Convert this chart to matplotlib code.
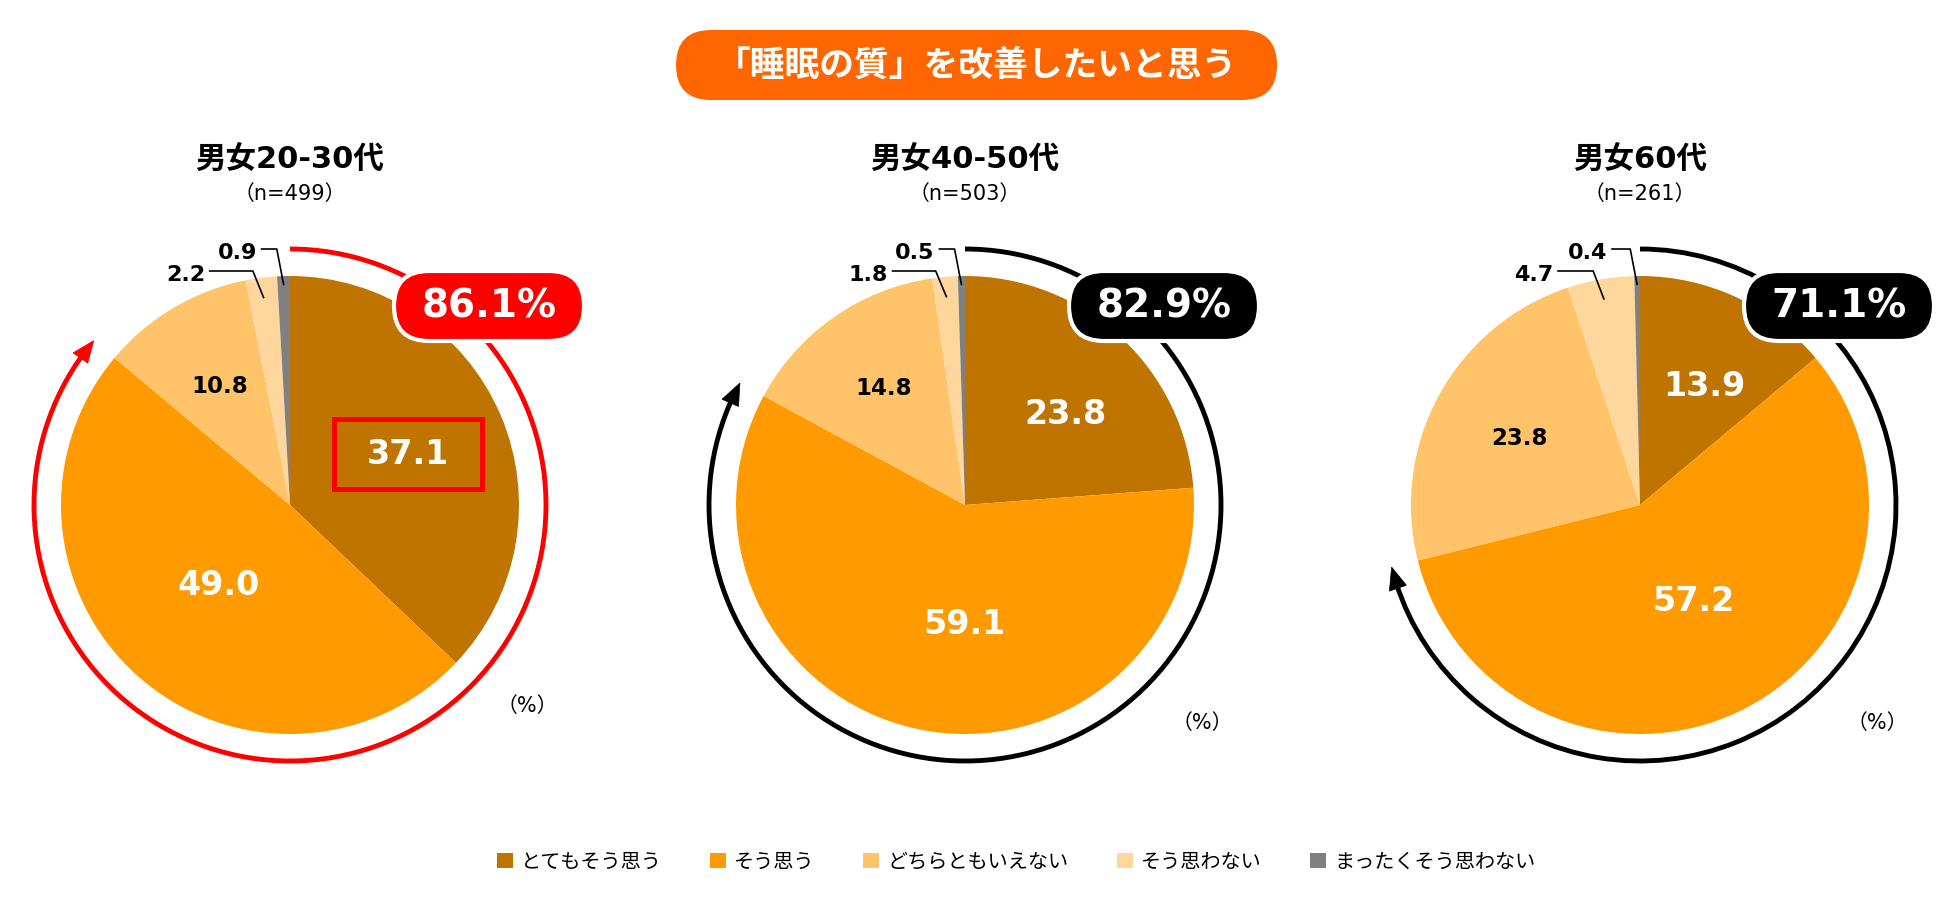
import matplotlib
matplotlib.use('Agg')
import matplotlib.pyplot as plt
from matplotlib.patches import Arc, FancyBboxPatch, Polygon, Rectangle
from matplotlib.font_manager import FontProperties
import numpy as np

# ---------------- data ----------------
title = '「睡眠の質」を改善したいと思う'
categories = ['とてもそう思う', 'そう思う', 'どちらともいえない', 'そう思わない', 'まったくそう思わない']
groups = ['男女20-30代', '男女40-50代', '男女60代']
sample_sizes = [499, 503, 261]
values_20_30 = [37.1, 49.0, 10.8, 2.2, 0.9]
values_40_50 = [23.8, 59.1, 14.8, 1.8, 0.5]
values_60 = [13.9, 57.2, 23.8, 4.7, 0.4]
all_values = [values_20_30, values_40_50, values_60]

# ---------------- style ----------------
colors = ['#C07400', '#FF9A00', '#FFC369', '#FFD79C', '#808080']
accent_colors = ['#FF0000', '#000000', '#000000']
highlight_first = [True, False, False]

W, H = 1950, 905
fig = plt.figure(figsize=(W / 100, H / 100), dpi=100)
ax = fig.add_axes([0, 0, 1, 1])

def Y(v):
    return H - v

JP = ['DejaVu Sans', 'Noto Sans CJK JP']
NUM = ['DejaVu Sans']

centers = [(290, 505), (965, 505), (1640, 505)]
R = 229          # pie radius (px)
RR = 256         # ring radius (px)
inner_layout = [
    [(0.56, 0), (0.47, 0), (0.60, 0)],
    [(0.59, -5), (0.52, 12), (0.62, 0)],
    [(0.59, -3.5), (0.48, 2), (0.60, 0)],
]
inner_colors = ['white', 'white', 'black']
inner_sizes = [24, 24, 16.5]
leader_r = [0.91, 0.96]
leader_elbow_up = [234, 256]
leader_elbow_dx = [-11, -7]
leader_len = [[44, 16], [44, 16], [36, 19]]
pct_dy = [201, 218, 218]

# ---------------- banner ----------------
bx0, by0, bw0, bh0 = 676, 30, 601, 70
ax.add_patch(FancyBboxPatch((bx0, Y(by0 + bh0)), bw0, bh0,
                            boxstyle=f"round,pad=0,rounding_size={bh0/2}",
                            fc='#FF6600', ec='none', zorder=2))
ax.text(bx0 + bw0 / 2, Y(by0 + bh0 / 2), title, ha='center', va='center',
        color='white', fontsize=25, fontweight='bold', family=['Noto Sans CJK JP'], zorder=3)

first_wedges = None
for i, vals in enumerate(all_values):
    cx, cy = centers[i]
    cyu = Y(cy)
    wedges, _ = ax.pie(vals, colors=colors, startangle=90, counterclock=False,
                       center=(cx, cyu), radius=R,
                       wedgeprops=dict(linewidth=0, edgecolor='none'))
    if first_wedges is None:
        first_wedges = wedges
    mids = [(w.theta1 + w.theta2) / 2 for w in wedges]

    # inner labels
    for k in range(3):
        rf, dth = inner_layout[i][k]
        a = np.deg2rad(mids[k] + dth)
        lx, ly = cx + rf * R * np.cos(a), cyu + rf * R * np.sin(a)
        ax.text(lx, ly, f"{vals[k]:.1f}", ha='center', va='center',
                color=inner_colors[k], fontsize=inner_sizes[k], fontweight='bold',
                family=NUM, zorder=4)
        if k == 0 and highlight_first[i]:
            bw, bh = 148, 70
            ax.add_patch(Rectangle((lx - bw / 2, ly - bh / 2), bw, bh, fill=False,
                                   ec='#FF0000', lw=3.6, zorder=4))

    # leader labels
    for j, k in enumerate([3, 4]):
        a = np.deg2rad(mids[k])
        px, py = cx + leader_r[j] * R * np.cos(a), cyu + leader_r[j] * R * np.sin(a)
        ex, ey = px + leader_elbow_dx[j], cyu + leader_elbow_up[j]
        hx = ex - leader_len[i][j]
        ax.plot([px, ex, hx], [py, ey, ey], color='black', lw=1.2, zorder=4,
                solid_capstyle='butt')
        ax.text(hx - 4, ey - 4, f"{vals[k]:.1f}", ha='right', va='center',
                color='black', fontsize=16, fontweight='bold', family=NUM, zorder=4)

    # ring arc with arrow
    top2 = vals[0] + vals[1]
    end = 90 - 3.6 * top2
    col = accent_colors[i]
    head_len = 22
    dlt = np.rad2deg(head_len / RR)
    ax.add_patch(Arc((cx, cyu), 2 * RR, 2 * RR, theta1=end + dlt * 0.7, theta2=90,
                     color=col, lw=3.5, zorder=3))
    ae = np.deg2rad(end)
    ab = np.deg2rad(end + dlt)
    tip = (cx + RR * np.cos(ae), cyu + RR * np.sin(ae))
    b1 = (cx + (RR + 9) * np.cos(ab), cyu + (RR + 9) * np.sin(ab))
    b2 = (cx + (RR - 9) * np.cos(ab), cyu + (RR - 9) * np.sin(ab))
    ax.add_patch(Polygon([tip, b1, b2], closed=True, fc=col, ec=col, lw=0.5, zorder=3))

    # badge
    bw, bh = 190, 70
    bcx, bcy = cx + 199, cyu + 199
    ax.add_patch(FancyBboxPatch((bcx - bw / 2, bcy - bh / 2), bw, bh,
                                boxstyle=f"round,pad=0,rounding_size={bh/2}",
                                fc=col, ec='white', lw=3, zorder=5))
    ax.text(bcx, bcy, f"{top2:.1f}%", ha='center', va='center', color='white',
            fontsize=28, fontweight='bold', family=NUM, zorder=6)

    # titles
    ax.text(cx, Y(160), groups[i], ha='center', va='center', fontsize=22,
            fontweight='bold', family=JP, zorder=4)
    ax.text(cx, Y(194), f"（n={sample_sizes[i]}）", ha='center', va='center',
            fontsize=15, family=JP, zorder=4)
    ax.text(cx + 237, cyu - pct_dy[i], "（%）", ha='center', va='center',
            fontsize=15, family=JP, zorder=4)

fig.legend(first_wedges, categories, loc='center',
           bbox_to_anchor=(1016 / W, 1 - 862 / H), ncol=5, frameon=False,
           prop=FontProperties(family='Noto Sans CJK JP', size=14.5),
           handlelength=0.8, handleheight=0.8, handletextpad=0.4, columnspacing=2.4)

ax.set_xlim(0, W)
ax.set_ylim(0, H)
ax.set_aspect('equal')
ax.axis('off')
fig.savefig('out.png', dpi=100)
